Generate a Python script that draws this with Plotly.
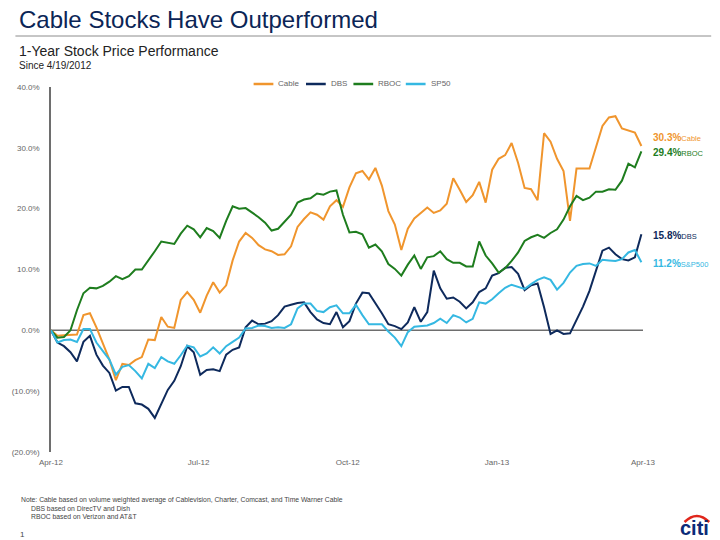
import pandas as pd
import plotly.graph_objects as go

# ---------------- data ----------------
dates = pd.date_range("2012-04-19", periods=92, freq="4D")

cable = [0, -0.9, -0.8, -0.7, -0.7, 2.5, 2.8, 0.5, -2.2, -4.8,
         -8.2, -5.5, -5.7, -4.9, -4.4, -1.5, -1.6, 2.2, 0.6, 0.4,
         5.0, 6.3, 5.0, 2.9, 5.7, 7.9, 6.2, 7.4, 11.5, 14.6,
         16.0, 15.2, 14.0, 13.3, 13.0, 12.4, 12.5, 13.8, 17.0, 18.3,
         19.4, 19.0, 18.2, 20.4, 21.4, 20.3, 23.5, 25.8, 26.2, 24.8,
         26.7, 23.8, 19.6, 17.4, 13.2, 16.7, 18.4, 19.3, 20.2, 19.3,
         19.7, 20.8, 25.0, 23.1, 21.1, 22.2, 24.4, 21.0, 26.4, 28.2,
         28.8, 30.8, 27.5, 23.4, 23.2, 21.4, 32.4, 31.0, 28.2, 26.2,
         18.0, 26.6, 26.6, 26.6, 30.1, 33.6, 35.0, 35.2, 33.2, 32.8,
         32.5, 30.3]

dbs = [0, -2.0, -2.6, -3.6, -5.1, -1.9, -0.9, -4.0, -5.8, -7.0,
       -9.9, -9.3, -9.3, -12.0, -12.2, -12.9, -14.4, -12.2, -9.8, -8.3,
       -5.9, -2.6, -3.6, -7.3, -6.5, -6.4, -6.7, -4.0, -3.2, -2.8,
       0.5, 1.6, 1.0, 1.1, 1.5, 2.5, 3.9, 4.2, 4.5, 4.6,
       3.0, 1.8, 1.2, 1.0, 3.0, 0.5, 1.5, 4.4, 6.2, 6.1,
       4.5, 2.8, 1.0, 0.7, 0.2, 1.3, 3.8, 1.4, 3.0, 9.8,
       6.9, 5.2, 5.4, 4.7, 3.6, 4.6, 6.3, 6.9, 9.0, 9.4,
       10.3, 10.4, 9.3, 6.6, 7.4, 7.7, 3.8, -0.6, 0.0, -0.6,
       -0.5, 1.8, 3.9, 6.5, 9.9, 13.1, 13.6, 12.5, 11.7, 11.5,
       12.0, 15.8]

rboc = [0, -1.2, -1.1, 0, 3.3, 6.1, 7.0, 6.9, 7.3, 8.0,
        8.9, 8.4, 8.9, 10.0, 10.0, 11.4, 13.0, 14.6, 14.4, 14.2,
        15.9, 17.2, 16.6, 15.3, 16.8, 16.3, 15.2, 18.0, 20.4, 20.0,
        20.1, 19.4, 18.6, 17.7, 16.4, 16.7, 17.9, 19.0, 21.0, 21.5,
        21.7, 22.5, 22.3, 22.8, 23.0, 19.0, 16.1, 16.2, 15.8, 13.6,
        14.1, 13.0, 10.9, 10.1, 9.0, 10.8, 12.3, 10.1, 12.0, 12.2,
        13.0, 11.7, 11.1, 11.1, 10.5, 10.5, 14.6, 12.3, 11.0, 9.5,
        10.2, 11.4, 12.8, 14.7, 15.3, 15.7, 15.2, 16.0, 16.6, 18.2,
        20.4, 22.1, 21.4, 21.8, 22.8, 22.8, 23.2, 23.1, 24.6, 27.4,
        26.8, 29.4]

sp50 = [0, -2.0, -1.6, -1.5, -1.9, 0.2, 0.2, -2.0, -3.4, -4.8,
        -7.3, -6.0, -5.7, -6.7, -7.9, -5.5, -6.2, -4.4, -5.1, -5.5,
        -4.1, -2.5, -2.8, -4.3, -3.8, -2.8, -3.8, -2.6, -1.9, -1.2,
        0.3, 0.4, 0.8, 0.7, 0.4, 0.5, 0.4, 1.0, 3.6, 4.4,
        4.4, 3.2, 3.0, 3.8, 4.1, 2.8, 2.8, 4.2, 2.5, 1.0,
        1.0, 1.0, -0.2, -1.2, -2.6, -0.3, 0.6, 0.7, 0.8, 1.2,
        1.9, 1.2, 2.5, 2.1, 1.3, 1.9, 4.6, 4.4, 5.1, 6.1,
        7.0, 7.5, 7.2, 6.8, 7.6, 8.3, 8.7, 8.3, 6.7, 7.8,
        9.5, 10.6, 10.9, 11.0, 10.6, 11.6, 11.5, 11.4, 11.7, 12.8,
        13.2, 11.2]

series_names = ["Cable", "DBS", "RBOC", "SP50"]
end_names = ["Cable", "DBS", "RBOC", "S&P500"]
series_colors = ["#F0952D", "#0E2A5C", "#1E7D1E", "#35B8E2"]

y_tickvals = [-20, -10, 0, 10, 20, 30, 40]
y_ticktext = ["(20.0%)", "(10.0%)", "0.0%", "10.0%", "20.0%", "30.0%", "40.0%"]
x_tickvals = ["2012-04-19", "2012-07-19", "2012-10-19", "2013-01-19", "2013-04-19"]
x_ticktext = ["Apr-12", "Jul-12", "Oct-12", "Jan-13", "Apr-13"]

# ---------------- layout helpers ----------------
W, H = 720, 540
L, R, T, B = 44, 643, 87, 452   # plot area in pixels


def px(x):
    return (x - L) / (R - L)


def py(y):
    return (B - y) / (B - T)


FONT = "Liberation Sans, Arial, sans-serif"

fig = go.Figure()
for name, vals, col in zip(series_names, [cable, dbs, rboc, sp50], series_colors):
    fig.add_trace(go.Scatter(x=dates, y=vals, mode="lines", name=name,
                             line=dict(color=col, width=2), showlegend=False))

annotations = []
shapes = []

# title, subtitle
annotations.append(dict(text="Cable Stocks Have Outperformed", x=px(10), y=py(20),
                        xref="paper", yref="paper", xanchor="left", yanchor="middle",
                        showarrow=False, font=dict(size=24, color="#0B2556", family=FONT)))
shapes.append(dict(type="line", xref="paper", yref="paper", x0=px(8), x1=px(712),
                   y0=py(36), y1=py(36), line=dict(color="#8C8C8C", width=1)))
annotations.append(dict(text="1-Year Stock Price Performance", x=px(10), y=py(51),
                        xref="paper", yref="paper", xanchor="left", yanchor="middle",
                        showarrow=False, font=dict(size=14, color="#222222", family=FONT)))
annotations.append(dict(text="Since 4/19/2012", x=px(10), y=py(66),
                        xref="paper", yref="paper", xanchor="left", yanchor="middle",
                        showarrow=False, font=dict(size=10, color="#222222", family=FONT)))

# manual legend
leg_x = [249, 302, 350, 403]
for lx, name, col in zip(leg_x, series_names, series_colors):
    shapes.append(dict(type="line", xref="paper", yref="paper", x0=px(lx), x1=px(lx + 20),
                       y0=py(84), y1=py(84), line=dict(color=col, width=2.5)))
    annotations.append(dict(text=name, x=px(lx + 23), y=py(84), xref="paper", yref="paper",
                            xanchor="left", yanchor="middle", showarrow=False,
                            font=dict(size=8, color="#666666", family=FONT)))

# end labels
end_y = [137, 235, 152, 263]
for vals, name, col, ey in zip([cable, dbs, rboc, sp50], end_names, series_colors, end_y):
    annotations.append(dict(
        text=f"<b>{vals[-1]:.1f}%</b><span style='font-size:7.5px'>{name}</span>",
        x=px(651), y=py(ey), xref="paper", yref="paper", xanchor="left", yanchor="middle",
        showarrow=False, font=dict(size=10, color=col, family=FONT)))

# footnotes
notes = [("Note: Cable based on volume weighted average of Cablevision, Charter, Comcast, and Time Warner Cable", 12, 500),
         ("DBS based on DirecTV and Dish", 22, 508),
         ("RBOC based on Verizon and AT&T", 22, 516)]
for txt, nx, ny in notes:
    annotations.append(dict(text=txt, x=px(nx), y=py(ny), xref="paper", yref="paper",
                            xanchor="left", yanchor="middle", showarrow=False,
                            font=dict(size=6.8, color="#444444", family=FONT)))
annotations.append(dict(text="1", x=px(11), y=py(534), xref="paper", yref="paper",
                        xanchor="left", yanchor="middle", showarrow=False,
                        font=dict(size=8, color="#444444", family=FONT)))

# citi logo
annotations.append(dict(text="<b>citi</b>", x=px(695), y=py(528), xref="paper", yref="paper",
                        xanchor="center", yanchor="middle", showarrow=False,
                        font=dict(size=20, color="#0B2A78", family=FONT)))
x0a, x1a = px(685), px(710)
ya, yb = py(522), py(516)
shapes.append(dict(type="path", xref="paper", yref="paper",
                   path=f"M {x0a},{ya} Q {(x0a + x1a) / 2},{yb - (ya - yb)} {x1a},{ya}",
                   line=dict(color="#E0261B", width=2.5)))

# zero line
shapes.append(dict(type="line", xref="paper", yref="y", x0=0, x1=1, y0=0, y1=0,
                   line=dict(color="#6E6E6E", width=1.5), layer="below"))

fig.update_layout(
    width=W, height=H,
    margin=dict(l=L, r=W - R, t=T, b=H - B, pad=0),
    paper_bgcolor="white", plot_bgcolor="white",
    font=dict(family=FONT, color="#666666", size=8),
    annotations=annotations, shapes=shapes,
    xaxis=dict(type="date", range=["2012-04-19", "2013-04-19"], tickvals=x_tickvals,
               ticktext=x_ticktext, showgrid=False, zeroline=False, showline=False,
               ticks="", tickfont=dict(size=8, color="#666666"), ticklabelstandoff=4),
    yaxis=dict(range=[-20, 40], tickvals=y_tickvals, ticktext=y_ticktext, showgrid=False,
               zeroline=False, showline=True, linecolor="#6E6E6E", linewidth=1.5,
               ticks="", tickfont=dict(size=8, color="#666666"), ticklabelstandoff=8),
)

fig.write_html("out.html", config={"displayModeBar": False},
               post_script="document.body.style.margin='0';document.body.style.overflow='hidden';")
